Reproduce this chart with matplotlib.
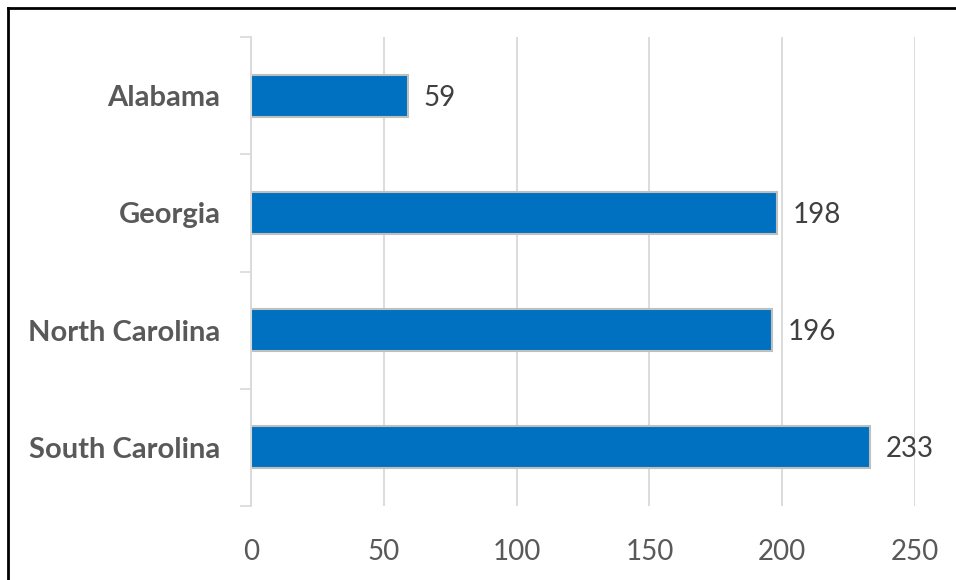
import numpy as np
import matplotlib.pyplot as plt
from matplotlib.lines import Line2D

states = ["Alabama", "Georgia", "North Carolina", "South Carolina"]
counts = [59, 198, 196, 233]
x_ticks = [0, 50, 100, 150, 200, 250]

plt.rcParams['font.family'] = ['Lato', 'DejaVu Sans']

fig = plt.figure(figsize=(9.56, 5.80), dpi=100)
ax = fig.add_axes([251 / 956, 74 / 580, 664 / 956, 469 / 580])

y = np.arange(len(states))
bars = ax.barh(y, counts, height=0.36, color="#0070C0",
               edgecolor="#BFBFBF", linewidth=1.5, zorder=3)

ax.set_xlim(0, 250)
ax.set_ylim(len(states) - 0.5, -0.5)
ax.set_xticks(x_ticks)
ax.set_xticklabels([str(t) for t in x_ticks])
ax.tick_params(axis='x', length=0, pad=24, labelsize=20, labelcolor="#595959")

# category labels, with category boundaries as minor ticks
ax.set_yticks(y)
ax.set_yticklabels(states, fontsize=21, fontweight='bold', color="#595959")
ax.tick_params(axis='y', which='major', length=0, pad=22)
ax.set_yticks(np.arange(-0.5, len(states), 1.0), minor=True)
ax.tick_params(axis='y', which='minor', length=8, width=1.2, color="#D9D9D9")

ax.grid(axis='x', color="#D9D9D9", linewidth=1.3, zorder=0)
for side in ['top', 'right', 'bottom']:
    ax.spines[side].set_visible(False)
ax.spines['left'].set_color("#D9D9D9")
ax.spines['left'].set_linewidth(1.3)
ax.spines['left'].set_zorder(4)

for b, v in zip(bars, counts):
    ax.annotate(str(v), (v, b.get_y() + b.get_height() / 2),
                xytext=(16, -2), textcoords='offset pixels',
                va='center', ha='left', fontsize=20, color="#404040")

# outer frame, top and left edges
fig.add_artist(Line2D([8 / 956, 8 / 956], [0, 572 / 580], color='black', linewidth=2))
fig.add_artist(Line2D([8 / 956, 1], [572 / 580, 572 / 580], color='black', linewidth=2))

fig.savefig("out.png", dpi=100, facecolor='white')
